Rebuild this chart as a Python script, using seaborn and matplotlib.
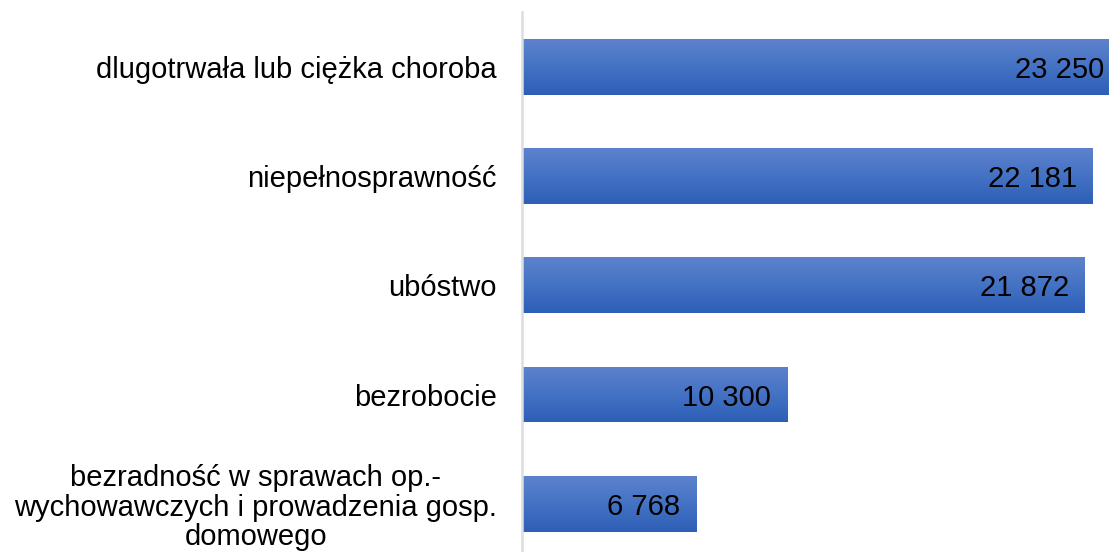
import numpy as np
import pandas as pd
import matplotlib
matplotlib.use('Agg')
import matplotlib.pyplot as plt
from matplotlib.colors import LinearSegmentedColormap
import seaborn as sns

categories = [
    'dlugotrwała lub ciężka choroba',
    'niepełnosprawność',
    'ubóstwo',
    'bezrobocie',
    'bezradność w sprawach op.-\nwychowawczych i prowadzenia gosp.\ndomowego',
]
values = [23250, 22181, 21872, 10300, 6768]
value_labels = ['23 250', '22 181', '21 872', '10 300', '6 768']

df = pd.DataFrame({'cat': categories, 'val': values})

sns.set_style('white')
plt.rcParams['font.family'] = ['Liberation Sans', 'DejaVu Sans']

W, H = 1109, 552
fig = plt.figure(figsize=(W / 100, H / 100), dpi=100)
# axes extends past the right and bottom edges like the cropped original
scale = 0.02574  # px per unit
xmax = 23500
left_px, top_px = 522, 12
ax_w = xmax * scale
ax_h = 5 * 109.3
ax = fig.add_axes([left_px / W, 1 - (top_px + ax_h) / H, ax_w / W, ax_h / H])

sns.barplot(data=df, x='val', y='cat', orient='h', width=0.51,
            color='#4472c4', ax=ax)

# vertical gradient on bars
cmap = LinearSegmentedColormap.from_list('g', ['#5d82cc', '#4472c4', '#2d5fb6'])
grad = np.linspace(0, 1, 100).reshape(-1, 1)
for p in ax.patches:
    x0, y0 = p.get_x(), p.get_y()
    w, h = p.get_width(), p.get_height()
    p.set_facecolor('none')
    p.set_edgecolor('none')
    im = ax.imshow(grad, cmap=cmap, aspect='auto', origin='upper',
                   extent=[x0, x0 + w, y0 + h, y0], zorder=2)
    im.set_clip_path(p)
ax.set_xlim(0, xmax)
ax.set_ylim(4.5, -0.5)

for i, (v, lab) in enumerate(zip(values, value_labels)):
    ax.annotate(lab, (v, i), xytext=(-16, 0), textcoords='offset pixels',
                ha='right', va='center_baseline', fontsize=21, color='black', zorder=3)

ax.set_xlabel('')
ax.set_ylabel('')
ax.set_xticks([])
for s in ['top', 'right', 'bottom']:
    ax.spines[s].set_visible(False)
ax.spines['left'].set_color('#dcdde3')
ax.spines['left'].set_linewidth(1.8)
ax.tick_params(axis='y', length=0, pad=18, labelsize=21, labelcolor='black')
for t in ax.get_yticklabels():
    t.set_multialignment('center')
    t.set_linespacing(1.08)

fig.savefig('out.png', dpi=100)
